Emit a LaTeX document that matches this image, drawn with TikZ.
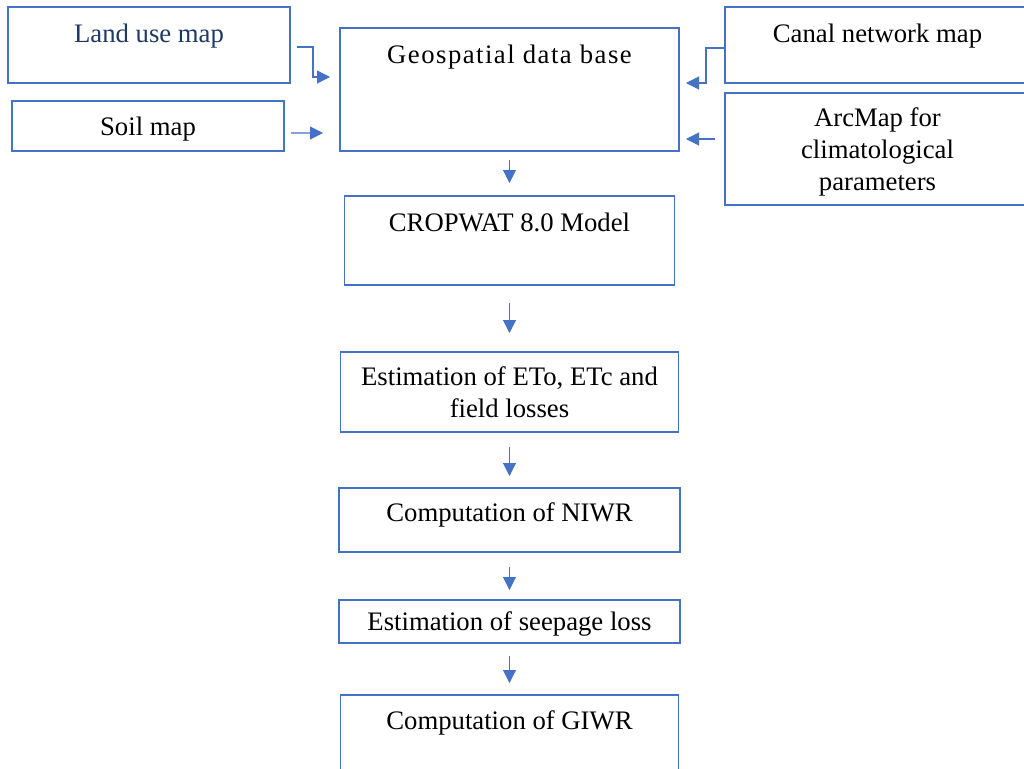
\documentclass[tikz,border=0pt]{standalone}
\usepackage{fontspec}
\setmainfont{Liberation Serif}
\newfontfamily\spacedfont[LetterSpace=5.5]{Liberation Serif}
\usetikzlibrary{arrows.meta, positioning}
\definecolor{boxblue}{RGB}{68,114,196}
\definecolor{navytext}{RGB}{31,56,100}

\begin{document}
\begin{tikzpicture}[
    box/.style={rectangle, draw=boxblue, line width=1pt, inner sep=2pt, outer sep=0pt, align=center, font=\fontsize{15.2}{18.2}\selectfont},
    txt/.style={anchor=base, inner sep=0pt, font=\fontsize{15.2}{18.2}\selectfont},
    arr/.style={-{Triangle[length=0.26cm, width=0.26cm]}, draw=boxblue, line width=0.6pt}
]
\clip (0,0) rectangle (20.48,-15.38);
\fill[white] (0,0) rectangle (20.48,-15.38);

% main column
\node[box, minimum width=6.78cm, minimum height=2.46cm] (geo) at (10.19,-1.79) {};
\node[box, minimum width=6.6cm, minimum height=1.78cm, below=0.9cm of geo] (crop) {};
\node[box, minimum width=6.76cm, minimum height=1.6cm, below=1.34cm of crop] (eto) {Estimation of ETo, ETc and\\field losses};
\node[box, minimum width=6.82cm, minimum height=1.28cm, below=1.12cm of eto] (niwr) {};
\node[box, minimum width=6.82cm, minimum height=0.86cm, text depth=0pt, below=0.96cm of niwr] (seep) {Estimation of seepage loss};
\node[box, minimum width=6.76cm, minimum height=1.8cm, below=1.04cm of seep] (giwr) {};

% input maps
\node[box, minimum width=5.64cm, minimum height=1.52cm] (land) at (2.98,-0.9) {};
\node[box, minimum width=5.44cm, minimum height=1.0cm, text depth=0pt] (soil) at (2.96,-2.52) {Soil map};
\node[box, minimum width=6.1cm, minimum height=1.52cm] (canal) at (17.55,-0.9) {};
\node[box, minimum width=6.1cm, minimum height=2.24cm, text depth=0pt] (arc) at (17.55,-2.98) {ArcMap for\\climatological\\parameters};

% top aligned texts
\node[txt, text=navytext] (landtxt) at ([yshift=-0.7cm]land.north) {Land use map};
\node[txt] (canaltxt) at ([yshift=-0.7cm]canal.north) {Canal network map};
\node[txt, font=\fontsize{15.2}{18.2}\spacedfont] (geotxt) at ([yshift=-0.7cm]geo.north) {Geospatial data base};
\node[txt] (croptxt) at ([yshift=-0.7cm]crop.north) {CROPWAT 8.0 Model};
\node[txt] (niwrtxt) at ([yshift=-0.66cm]niwr.north) {Computation of NIWR};
\node[txt] (giwrtxt) at ([yshift=-0.68cm]giwr.north) {Computation of GIWR};

% inputs to data base
\draw[arr] ([xshift=0.14cm,yshift=-0.04cm]land.east) -| ([xshift=-0.54cm,yshift=0.25cm]geo.west) -- ([xshift=-0.2cm,yshift=0.25cm]geo.west);
\draw[arr] ([xshift=0.14cm,yshift=-0.14cm]soil.east) -- ([xshift=-0.34cm,yshift=-0.87cm]geo.west);
\draw[arr] ([yshift=-0.06cm]canal.west) -| ([xshift=0.54cm,yshift=0.13cm]geo.east) -- ([xshift=0.14cm,yshift=0.13cm]geo.east);
\draw[arr] ([xshift=-0.2cm,yshift=0.2cm]arc.west) -- ([xshift=0.14cm,yshift=-0.99cm]geo.east);

% main flow
\draw[arr, shorten <=0.18cm, shorten >=0.26cm] (geo) -- (crop);
\draw[arr, shorten <=0.36cm, shorten >=0.38cm] (crop) -- (eto);
\draw[arr, shorten <=0.3cm, shorten >=0.24cm] (eto) -- (niwr);
\draw[arr, shorten <=0.3cm, shorten >=0.2cm] (niwr) -- (seep);
\draw[arr, shorten <=0.26cm, shorten >=0.24cm] (seep) -- (giwr);
\end{tikzpicture}
\end{document}
